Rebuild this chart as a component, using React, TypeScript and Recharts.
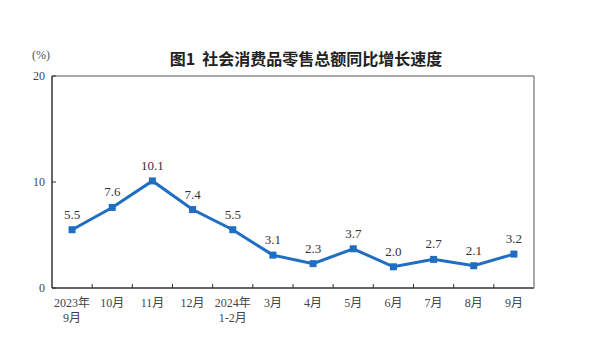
import React from 'react';
import {
  LineChart,
  Line,
  XAxis,
  YAxis,
  LabelList,
} from 'recharts';

const months = ['2023年\n9月', '10月', '11月', '12月', '2024年\n1-2月', '3月', '4月', '5月', '6月', '7月', '8月', '9月'];
const growth = [5.5, 7.6, 10.1, 7.4, 5.5, 3.1, 2.3, 3.7, 2.0, 2.7, 2.1, 3.2];
const yTicks = [0, 10, 20];

const data = months.map((m, i) => ({ m, v: growth[i] }));

const SERIF = '"Liberation Serif", "Noto Sans CJK SC", serif';
const BLUE = '#1f6ec2';
const BOX = '#8c8c8c';
const AXIS = '#333';

function MonthTick(props: any) {
  const { x, y, payload, index, visibleTicksCount } = props;
  const half = payload.offset ?? 20;
  const lines = String(payload.value).split('\n');
  return (
    <g>
      {index < visibleTicksCount - 1 && (
        <line x1={x + half} x2={x + half} y1={y} y2={y - 4} stroke={AXIS} strokeWidth={1} />
      )}
      {lines.map((t, i) => (
        <text
          key={i}
          x={x}
          y={y + 19 + i * 15}
          textAnchor="middle"
          fontSize={12}
          fill="#444"
          fontFamily={SERIF}
        >
          {t}
        </text>
      ))}
    </g>
  );
}

function ValueTick(props: any) {
  const { x, y, payload } = props;
  return (
    <g>
      <line x1={x} x2={x + 4} y1={y} y2={y} stroke={AXIS} strokeWidth={1} />
      <text x={x - 7} y={y + 4} textAnchor="end" fontSize={12} fill="#444" fontFamily={SERIF}>
        {payload.value}
      </text>
    </g>
  );
}

function SquareDot(props: any) {
  const { cx, cy } = props;
  if (cx == null || cy == null) return null;
  return <rect x={cx - 3.5} y={cy - 3.5} width={7} height={7} fill={BLUE} />;
}

export default function App() {
  return (
    <div style={{ position: 'relative', width: 592, height: 348 }}>
      <div
        style={{
          position: 'absolute',
          left: 24,
          top: 40,
          fontSize: 12,
          color: '#555',
          fontFamily: SERIF,
        }}
      >
        (%)
      </div>
      <div
        style={{
          position: 'absolute',
          left: 0,
          width: 596,
          top: 38,
          textAlign: 'center',
          fontSize: 16,
          fontWeight: 700,
          color: '#222',
          fontFamily: '"Noto Sans CJK SC", sans-serif',
        }}
      >
        图1&nbsp;&nbsp;社会消费品零售总额同比增长速度
      </div>
      <LineChart
        width={592}
        height={348}
        data={data}
        margin={{ top: 67, right: 65, bottom: 28, left: 14 }}
      >
        <XAxis
          dataKey="m"
          scale="band"
          interval={0}
          height={40}
          tickSize={0}
          tickMargin={0}
          tick={<MonthTick />}
          axisLine={{ stroke: AXIS, strokeWidth: 1.5 }}
          tickLine={false}
        />
        <XAxis
          xAxisId="top"
          dataKey="m"
          scale="band"
          orientation="top"
          height={1}
          tick={false}
          tickLine={false}
          axisLine={{ stroke: BOX, strokeWidth: 1.5 }}
        />
        <YAxis
          domain={[0, 20]}
          ticks={yTicks}
          width={30}
          tickSize={0}
          tickMargin={0}
          tick={<ValueTick />}
          axisLine={{ stroke: AXIS, strokeWidth: 1.5 }}
          tickLine={false}
        />
        <YAxis
          yAxisId="right"
          orientation="right"
          domain={[0, 20]}
          width={1}
          tick={false}
          tickLine={false}
          axisLine={{ stroke: BOX, strokeWidth: 1.5 }}
        />
        <Line
          dataKey="v"
          stroke={BLUE}
          strokeWidth={3}
          dot={<SquareDot />}
          activeDot={false}
          isAnimationActive={false}
        >
          <LabelList
            dataKey="v"
            position="top"
            offset={11}
            fontSize={13}
            fill="#333"
            fontFamily={SERIF}
            formatter={(v: any) => Number(v).toFixed(1)}
          />
        </Line>
      </LineChart>
    </div>
  );
}
